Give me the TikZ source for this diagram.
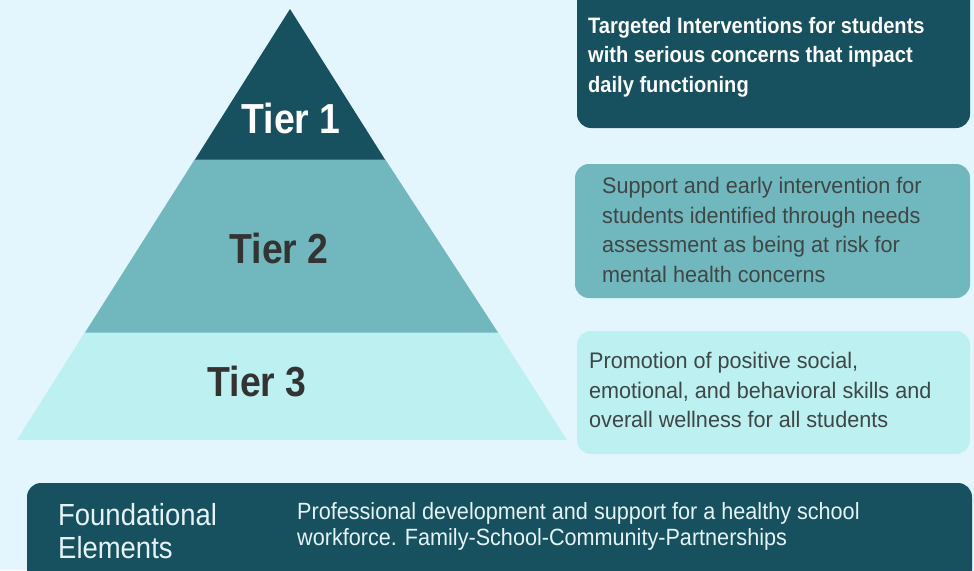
\documentclass[tikz,border=0pt]{standalone}
\usepackage{fontspec}
\setmainfont{Liberation Sans}
\newfontfamily\tierfont[FakeStretch=0.89]{Liberation Sans}
\newfontfamily\bodyfont[FakeStretch=0.96]{Liberation Sans}
\newfontfamily\narrowfont[FakeStretch=0.9]{Liberation Sans}
\newfontfamily\footfont[FakeStretch=0.92]{Liberation Sans}

\definecolor{bgblue}{HTML}{E3F6FD}
\definecolor{tierdark}{HTML}{17505F}
\definecolor{tiermid}{HTML}{71B8BE}
\definecolor{tierlight}{HTML}{BCF0F1}
\definecolor{inkgray}{HTML}{333333}
\definecolor{boxgray}{HTML}{3E4646}
\definecolor{paletext}{HTML}{E4F4F6}

\tikzset{
  tierlabel/.style={inner sep=0, font=\tierfont\bfseries\fontsize{42}{42}\selectfont},
  boxtext/.style={anchor=north west, inner sep=0, align=left,
                  font=\bodyfont\fontsize{22.5}{29.5}\selectfont},
  card/.style={rounded corners=14pt},
}

\begin{document}
\begin{tikzpicture}[x=1pt, y=-1pt]
\clip (0,0) rectangle (974,570);
\fill[bgblue] (0,0) rectangle (974,570);

% pyramid, bottom to top
\fill[tierlight] (17,440) -- (85,332) -- (498,332) -- (567,440) -- cycle;
\fill[tiermid] (85,332.5) -- (195,159) -- (385,159) -- (498,332.5) -- cycle;
\fill[tierdark] (195,159.5) -- (290,9) -- (385,159.5) -- cycle;

\node[tierlabel, text=white] (tier1) at (291,118) {Tier 1};
\node[tierlabel, text=inkgray] (tier2) at (279,248) {Tier 2};
\node[tierlabel, text=inkgray] (tier3) at (257,382) {Tier 3};

% description cards
\fill[tierdark, card] (577,-20) rectangle (970,128);
\node[boxtext, text=white, font=\narrowfont\bfseries\fontsize{22.3}{29.5}\selectfont]
  (desc1) at (588,17)
  {Targeted Interventions for students\\with serious concerns that impact\\
   daily functioning};

\fill[tiermid, card] (575,164) rectangle (970,298);
\node[boxtext, text=boxgray] (desc2) at (602,177)
  {Support and early intervention for\\students identified through needs\\
   assessment as being at risk for\\mental health concerns};

\fill[tierlight, card] (577,331) rectangle (970,454);
\node[boxtext, text=boxgray] (desc3) at (589,352)
  {Promotion of positive social,\\emotional, and behavioral skills and\\
   overall wellness for all students};

% foundation bar
\fill[tierdark, card] (27,483) rectangle (972,600);
\node[boxtext, text=paletext, font=\narrowfont\fontsize{30.5}{33}\selectfont]
  (found) at (58,503) {Foundational\\Elements};
\node[boxtext, text=paletext, font=\footfont\fontsize{23.5}{26}\selectfont]
  (founddesc) at (297,502)
  {Professional development and support for a healthy school\\
   workforce. Family-School-Community-Partnerships};
\end{tikzpicture}
\end{document}
